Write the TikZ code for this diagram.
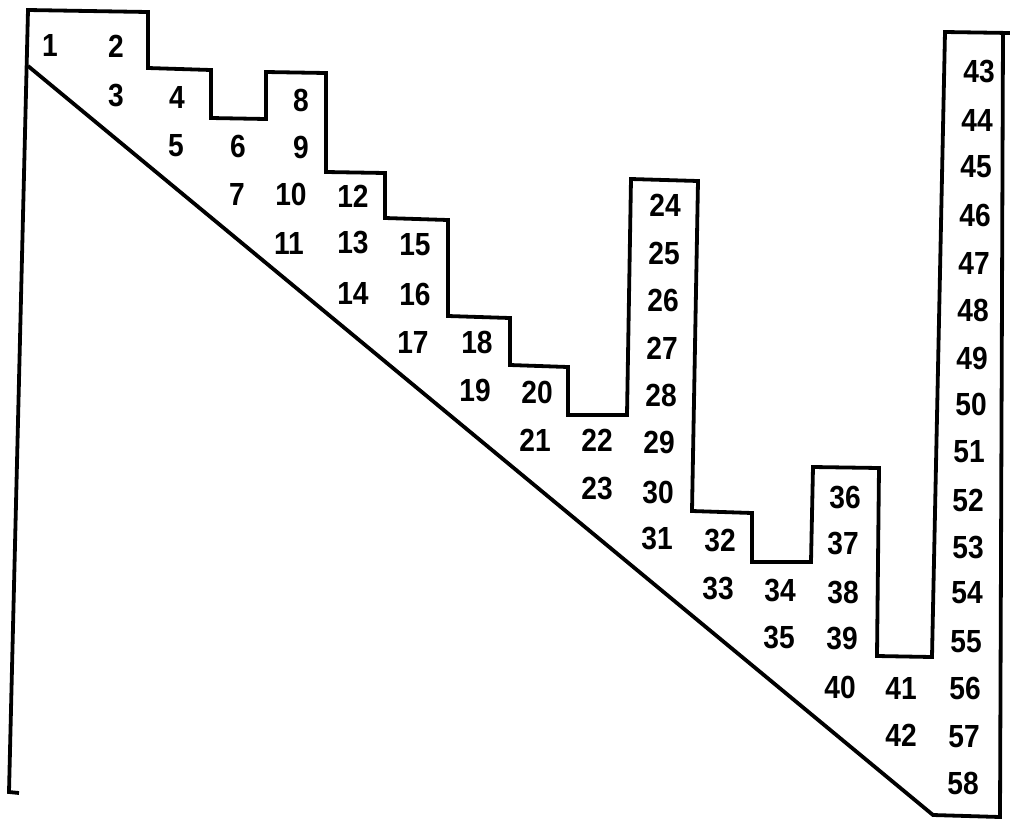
\documentclass[tikz,border=0pt]{standalone}
\usepackage{fontspec}
\setmainfont[FakeStretch=0.88]{Liberation Sans}
\begin{document}
\begin{tikzpicture}[x=1pt,y=-1pt,
  num/.style={font=\fontsize{32}{32}\selectfont\bfseries, inner sep=0pt, anchor=center},
  outline/.style={line width=3.8pt, line join=miter, line cap=butt}]
\useasboundingbox (0,0) rectangle (1010,820);
% skyline profile
\draw[outline] (19,793) -- (9,792) -- (28,10) -- (148,12) -- (148,68) -- (211,70) -- (211,118)
  -- (266,119) -- (266,72) -- (326,73) -- (326,172) -- (385,173) -- (385,218) -- (448,220)
  -- (448,316) -- (510,318) -- (510,365) -- (568,367) -- (568,415) -- (627,415) -- (631,179)
  -- (698,181) -- (692,511) -- (752,513) -- (752,562) -- (811,562) -- (813,467) -- (879,468)
  -- (877,656) -- (932,657) -- (945,32) -- (1010,33);
% diagonal and right edge
\draw[outline] (28,66) -- (933,815) -- (1000,817) -- (1003,33);
% entries
\foreach \n/\x/\y in {1/50/45, 2/116/46, 3/116/96, 4/177/97, 8/301/100, 5/176/146, 6/238/146, 9/301/147,
  7/237/194, 10/291/194, 11/289/243, 12/353/196, 13/353/243, 15/415/245, 14/353/293, 16/415/294,
  17/413/342, 18/477/342, 19/475/390, 20/537/392, 21/535/440, 22/597/440, 23/597/488,
  24/665/205, 25/664/253, 26/663/300, 27/662/348, 28/661/395, 29/659/442, 30/658/492, 31/657/538,
  32/720/540, 33/718/588, 34/780/590, 35/779/637,
  36/845/497, 37/843/543, 38/843/592, 39/842/638, 40/840/687, 41/901/688, 42/901/735,
  43/979/72, 44/977/120, 45/976/167, 46/975/215, 47/974/263, 48/973/310, 49/972/358, 50/971/404,
  51/969/452, 52/968/500, 53/968/547, 54/967/593, 55/966/642, 56/965/688, 57/964/737, 58/963/783}
  \node[num] (n\n) at (\x,\y) {\n};
\end{tikzpicture}
\end{document}
